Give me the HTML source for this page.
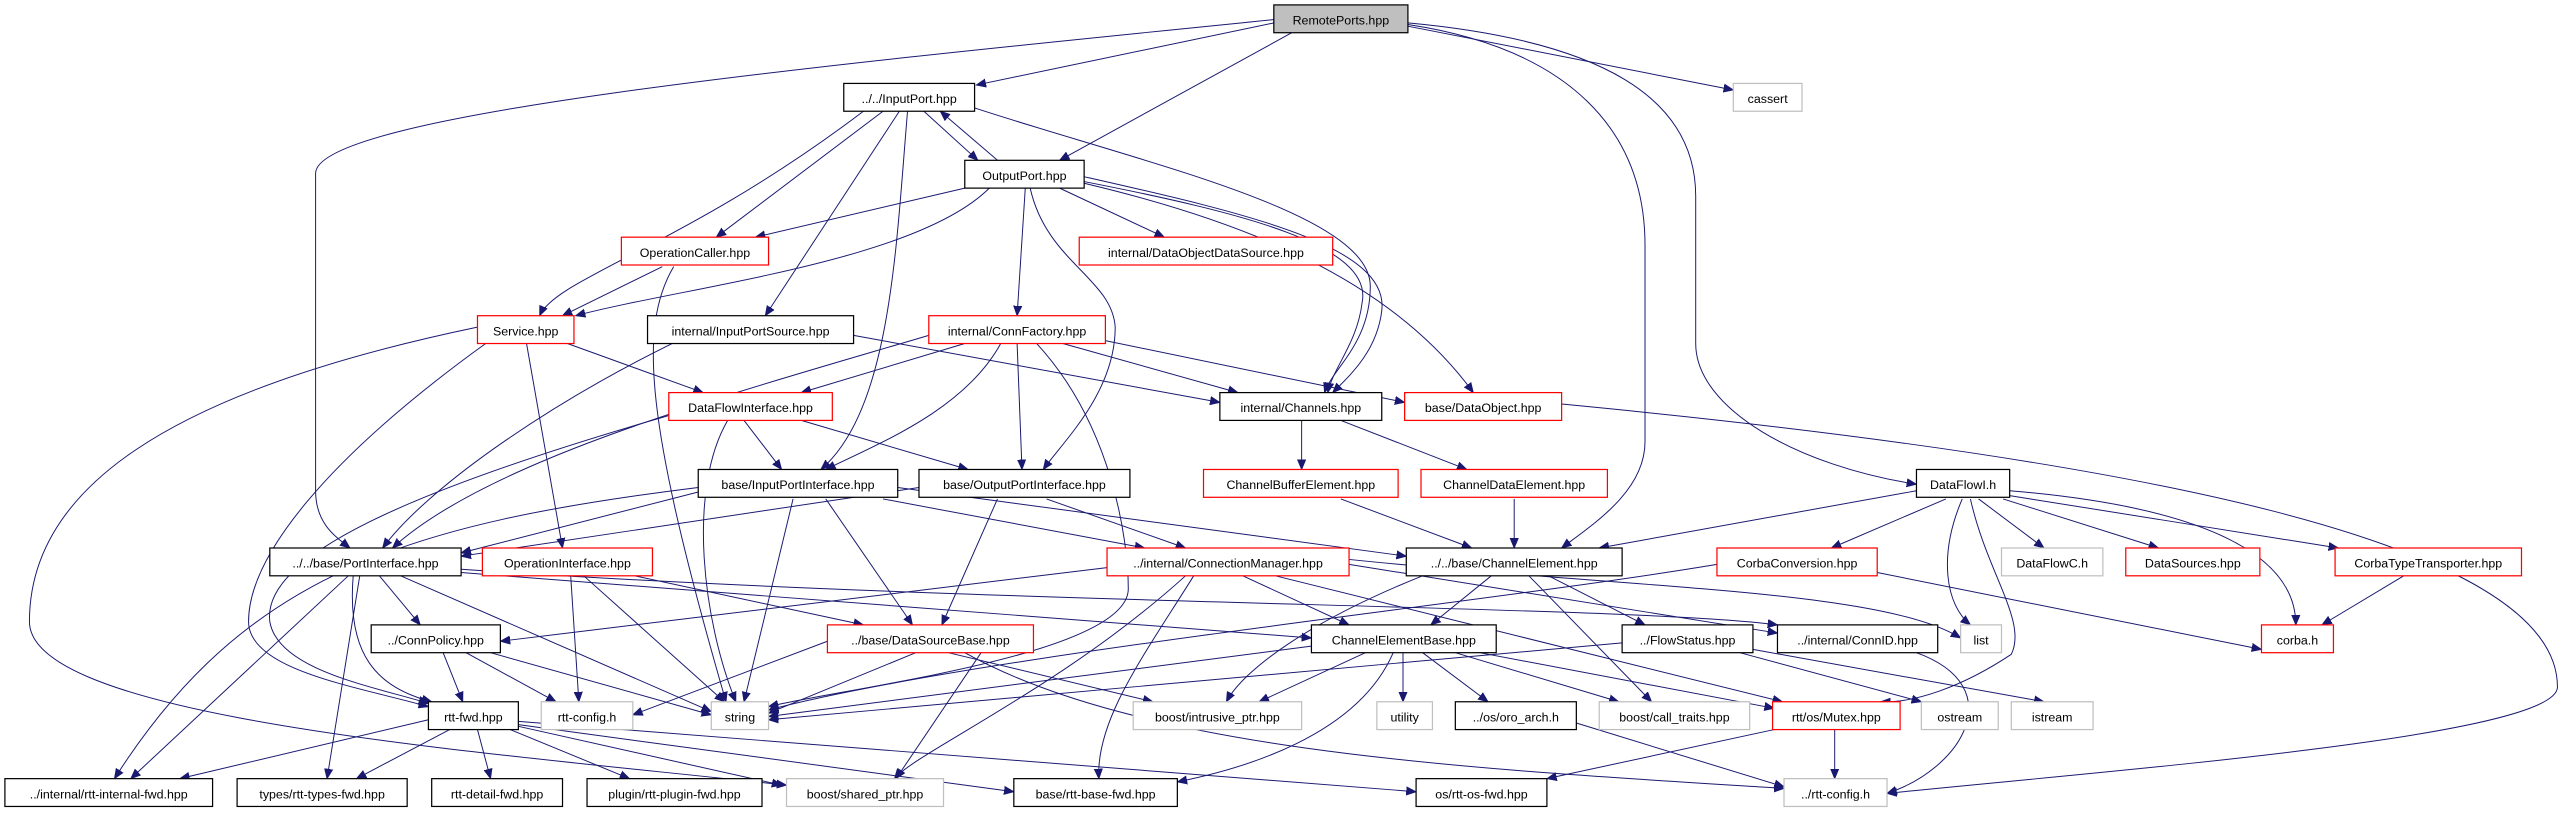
<!DOCTYPE html>
<html><head><meta charset="utf-8"><style>
html,body{margin:0;padding:0;background:#fff;}
svg{display:block;}
text{font-family:"Liberation Sans",sans-serif;font-size:7.6px;fill:#000;text-anchor:middle;}
.n{fill:#fff;stroke:#000;stroke-width:0.75;}
.r{fill:#fff;stroke:#ff0000;stroke-width:0.75;}
.g{fill:#fff;stroke:#bfbfbf;stroke-width:0.75;}
.e path{fill:none;stroke:#191970;stroke-width:0.6;marker-end:url(#a);}
</style></head><body>
<svg width="2564" height="813" viewBox="0 0 1568 497" preserveAspectRatio="none" xmlns="http://www.w3.org/2000/svg">
<defs><marker id="a" markerUnits="userSpaceOnUse" markerWidth="7" markerHeight="6" refX="6" refY="3" orient="auto"><path d="M0,0.5 L6,3 L0,5.5 Z" fill="#191970" stroke="#191970" stroke-width="0.5"/></marker></defs>
<g class="e">
<path d="M779,14 L597,52"/>
<path d="M779,12 C500,40 193,70 193,106 L193,300 C193,320 205,328 214,335"/>
<path d="M790,20 L648,98"/>
<path d="M861,15 C960,30 1006,80 1006,150 L1006,270 C1006,300 975,320 955,335"/>
<path d="M861,16 L1060,55"/>
<path d="M861,14 C980,25 1037,60 1037,120 L1037,210 C1037,250 1100,285 1172,296"/>
<path d="M565,68 L598,98"/>
<path d="M610,98 L575,68"/>
<path d="M540,68 L438,145"/>
<path d="M528,68 C420,150 340,170 330,193"/>
<path d="M550,68 L468,193"/>
<path d="M555,68 C548,150 545,250 502,287"/>
<path d="M596,66 C700,100 838,130 838,175 C838,210 815,225 810,240"/>
<path d="M590,115 L462,145"/>
<path d="M605,115 C560,160 420,175 352,193"/>
<path d="M648,115 L712,145"/>
<path d="M627,115 L622,193"/>
<path d="M630,115 C640,160 680,170 682,200 C682,240 650,270 638,287"/>
<path d="M663,108 C760,130 850,150 845,190 C842,215 825,230 815,240"/>
<path d="M663,111 C760,130 840,150 833,185 C830,210 815,225 812,240"/>
<path d="M663,112 C760,135 850,170 901,240"/>
<path d="M405,163 L344,193"/>
<path d="M412,163 C390,200 395,260 444,429"/>
<path d="M347,210 L430,240"/>
<path d="M322,210 L344,335"/>
<path d="M297,210 C200,280 152,340 152,380 C152,410 220,420 262,432"/>
<path d="M292,200 C100,240 18,300 18,380 C18,440 300,460 481,480"/>
<path d="M411,210 C330,250 260,300 234,335"/>
<path d="M568,205 C450,240 300,280 240,335"/>
<path d="M522,205 L746,246"/>
<path d="M455,257 L478,287"/>
<path d="M490,257 L592,287"/>
<path d="M445,257 C420,300 430,380 450,429"/>
<path d="M409,254 C250,300 160,340 165,380 C170,410 230,420 262,430"/>
<path d="M590,210 L490,240"/>
<path d="M612,210 C590,250 540,270 505,287"/>
<path d="M622,210 L625,287"/>
<path d="M650,210 L757,240"/>
<path d="M670,207 L859,246"/>
<path d="M634,210 C680,260 690,330 690,360 C690,400 520,420 470,432"/>
<path d="M796,257 L796,287"/>
<path d="M820,257 L897,287"/>
<path d="M955,247 C1300,280 1564,330 1564,420 C1564,450 1300,470 1154,485"/>
<path d="M820,305 L900,335"/>
<path d="M926,305 L926,335"/>
<path d="M1172,300 L978,335"/>
<path d="M1190,305 L1120,335"/>
<path d="M1200,305 C1185,340 1190,370 1205,382"/>
<path d="M1210,305 L1250,335"/>
<path d="M1225,305 L1320,335"/>
<path d="M1229,303 L1430,335"/>
<path d="M1229,300 C1350,310 1404,340 1404,382"/>
<path d="M1205,305 C1215,350 1240,380 1230,400 C1200,420 1170,430 1150,429"/>
<path d="M1148,350 L1383,397"/>
<path d="M1050,345 C900,370 600,400 470,434"/>
<path d="M1470,352 L1420,382"/>
<path d="M430,300 L282,338"/>
<path d="M540,305 L700,335"/>
<path d="M549,298 L860,340"/>
<path d="M505,305 L558,382"/>
<path d="M485,305 L455,429"/>
<path d="M427,298 C250,320 150,350 70,476"/>
<path d="M562,298 L282,340"/>
<path d="M610,305 L576,382"/>
<path d="M640,305 L725,335"/>
<path d="M232,352 L257,382"/>
<path d="M213,352 L80,476"/>
<path d="M220,352 L200,476"/>
<path d="M245,352 L435,435"/>
<path d="M282,350 L802,390"/>
<path d="M282,348 C600,370 1000,370 1087,382"/>
<path d="M216,352 C212,400 230,420 264,429"/>
<path d="M388,352 L528,382"/>
<path d="M349,352 L354,429"/>
<path d="M357,352 L443,429"/>
<path d="M677,347 L306,392"/>
<path d="M760,352 L825,382"/>
<path d="M825,345 L1087,387"/>
<path d="M825,342 C1000,360 1150,360 1199,390"/>
<path d="M780,352 L1090,429"/>
<path d="M730,352 C700,400 670,440 672,476"/>
<path d="M725,352 C650,420 560,460 547,476"/>
<path d="M912,352 L875,382"/>
<path d="M947,352 L1006,382"/>
<path d="M870,352 C800,380 760,410 750,429"/>
<path d="M935,352 L1010,429"/>
<path d="M560,399 L470,436"/>
<path d="M506,392 L387,437"/>
<path d="M580,399 L705,429"/>
<path d="M590,399 C700,460 900,470 1091,482"/>
<path d="M600,399 L548,476"/>
<path d="M835,399 L770,429"/>
<path d="M858,399 L858,429"/>
<path d="M870,399 L910,429"/>
<path d="M890,399 L990,429"/>
<path d="M905,399 L1085,433"/>
<path d="M852,399 C830,450 760,470 720,478"/>
<path d="M802,395 L470,438"/>
<path d="M992,393 L470,440"/>
<path d="M1064,399 L1175,429"/>
<path d="M1072,397 L1250,429"/>
<path d="M1172,399 C1230,420 1200,470 1154,485"/>
<path d="M1122,446 L1122,476"/>
<path d="M1085,446 L946,476"/>
<path d="M964,442 L1091,481"/>
<path d="M271,399 L283,429"/>
<path d="M285,399 L340,429"/>
<path d="M300,399 L435,437"/>
<path d="M262,440 L110,476"/>
<path d="M275,446 L218,476"/>
<path d="M292,446 L300,476"/>
<path d="M312,446 L385,476"/>
<path d="M317,444 L478,480"/>
<path d="M317,443 L620,484"/>
<path d="M317,441 L866,484"/>
</g>
<g>
<rect x="779" y="3" width="82" height="17" style="fill:#bfbfbf;stroke:#000;stroke-width:0.75"/><text x="820" y="15">RemotePorts.hpp</text>
<rect class="n" x="516" y="51" width="80" height="17"/><text x="556" y="63">../../InputPort.hpp</text>
<rect class="g" x="1060" y="51" width="42" height="17"/><text x="1081" y="63">cassert</text>
<rect class="n" x="590" y="98" width="73" height="17"/><text x="626.5" y="110">OutputPort.hpp</text>
<rect class="r" x="380" y="145" width="90" height="17"/><text x="425" y="157">OperationCaller.hpp</text>
<rect class="r" x="660" y="145" width="155" height="17"/><text x="737.5" y="157">internal/DataObjectDataSource.hpp</text>
<rect class="r" x="292" y="193" width="59" height="17"/><text x="321.5" y="205">Service.hpp</text>
<rect class="n" x="396" y="193" width="126" height="17"/><text x="459" y="205">internal/InputPortSource.hpp</text>
<rect class="r" x="568" y="193" width="108" height="17"/><text x="622" y="205">internal/ConnFactory.hpp</text>
<rect class="r" x="409" y="240" width="100" height="17"/><text x="459" y="252">DataFlowInterface.hpp</text>
<rect class="n" x="746" y="240" width="99" height="17"/><text x="795.5" y="252">internal/Channels.hpp</text>
<rect class="r" x="859" y="240" width="96" height="17"/><text x="907" y="252">base/DataObject.hpp</text>
<rect class="n" x="427" y="287" width="122" height="17"/><text x="488" y="299">base/InputPortInterface.hpp</text>
<rect class="n" x="562" y="287" width="129" height="17"/><text x="626.5" y="299">base/OutputPortInterface.hpp</text>
<rect class="r" x="736" y="287" width="119" height="17"/><text x="795.5" y="299">ChannelBufferElement.hpp</text>
<rect class="r" x="869" y="287" width="114" height="17"/><text x="926" y="299">ChannelDataElement.hpp</text>
<rect class="n" x="1172" y="287" width="57" height="17"/><text x="1200.5" y="299">DataFlowI.h</text>
<rect class="n" x="165" y="335" width="117" height="17"/><text x="223.5" y="347">../../base/PortInterface.hpp</text>
<rect class="r" x="295" y="335" width="104" height="17"/><text x="347" y="347">OperationInterface.hpp</text>
<rect class="r" x="677" y="335" width="148" height="17"/><text x="751" y="347">../internal/ConnectionManager.hpp</text>
<rect class="n" x="860" y="335" width="132" height="17"/><text x="926" y="347">../../base/ChannelElement.hpp</text>
<rect class="r" x="1050" y="335" width="98" height="17"/><text x="1099" y="347">CorbaConversion.hpp</text>
<rect class="g" x="1224" y="335" width="62" height="17"/><text x="1255" y="347">DataFlowC.h</text>
<rect class="r" x="1300" y="335" width="82" height="17"/><text x="1341" y="347">DataSources.hpp</text>
<rect class="r" x="1428" y="335" width="114" height="17"/><text x="1485" y="347">CorbaTypeTransporter.hpp</text>
<rect class="n" x="227" y="382" width="79" height="17"/><text x="266.5" y="394">../ConnPolicy.hpp</text>
<rect class="r" x="506" y="382" width="126" height="17"/><text x="569" y="394">../base/DataSourceBase.hpp</text>
<rect class="n" x="802" y="382" width="113" height="17"/><text x="858.5" y="394">ChannelElementBase.hpp</text>
<rect class="n" x="992" y="382" width="80" height="17"/><text x="1032" y="394">../FlowStatus.hpp</text>
<rect class="n" x="1087" y="382" width="98" height="17"/><text x="1136" y="394">../internal/ConnID.hpp</text>
<rect class="g" x="1199" y="382" width="25" height="17"/><text x="1211.5" y="394">list</text>
<rect class="r" x="1383" y="382" width="44" height="17"/><text x="1405" y="394">corba.h</text>
<rect class="n" x="262" y="429" width="55" height="17"/><text x="289.5" y="441">rtt-fwd.hpp</text>
<rect class="g" x="331" y="429" width="56" height="17"/><text x="359" y="441">rtt-config.h</text>
<rect class="g" x="435" y="429" width="35" height="17"/><text x="452.5" y="441">string</text>
<rect class="g" x="693" y="429" width="103" height="17"/><text x="744.5" y="441">boost/intrusive_ptr.hpp</text>
<rect class="g" x="842" y="429" width="34" height="17"/><text x="859" y="441">utility</text>
<rect class="n" x="890" y="429" width="74" height="17"/><text x="927" y="441">../os/oro_arch.h</text>
<rect class="g" x="978" y="429" width="92" height="17"/><text x="1024" y="441">boost/call_traits.hpp</text>
<rect class="r" x="1084" y="429" width="78" height="17"/><text x="1123" y="441">rtt/os/Mutex.hpp</text>
<rect class="g" x="1175" y="429" width="47" height="17"/><text x="1198.5" y="441">ostream</text>
<rect class="g" x="1230" y="429" width="50" height="17"/><text x="1255" y="441">istream</text>
<rect class="n" x="3" y="476" width="127" height="17"/><text x="66.5" y="488">../internal/rtt-internal-fwd.hpp</text>
<rect class="n" x="145" y="476" width="104" height="17"/><text x="197" y="488">types/rtt-types-fwd.hpp</text>
<rect class="n" x="264" y="476" width="80" height="17"/><text x="304" y="488">rtt-detail-fwd.hpp</text>
<rect class="n" x="359" y="476" width="107" height="17"/><text x="412.5" y="488">plugin/rtt-plugin-fwd.hpp</text>
<rect class="g" x="481" y="476" width="96" height="17"/><text x="529" y="488">boost/shared_ptr.hpp</text>
<rect class="n" x="620" y="476" width="100" height="17"/><text x="670" y="488">base/rtt-base-fwd.hpp</text>
<rect class="n" x="866" y="476" width="80" height="17"/><text x="906" y="488">os/rtt-os-fwd.hpp</text>
<rect class="g" x="1091" y="476" width="63" height="17"/><text x="1122.5" y="488">../rtt-config.h</text>
</g>
</svg>
</body></html>
